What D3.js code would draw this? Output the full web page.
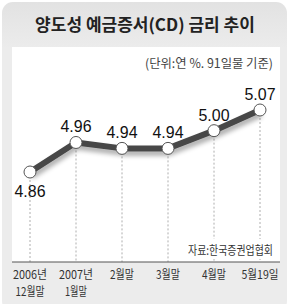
<!DOCTYPE html>
<html><head><meta charset="utf-8">
<script src="https://cdn.jsdelivr.net/npm/d3@7"></script>
<style>body{margin:0;background:#fff}svg{display:block}</style>
</head><body>
<script>
const categories1 = ["2006년","2007년","2월말","3월말","4월말","5월19일"];
const categories2 = ["12월말","1월말","","","",""];
const values = [4.86, 4.96, 4.94, 4.94, 5.00, 5.07];
const valueLabels = ["4.86","4.96","4.94","4.94","5.00","5.07"];

const W = 290, H = 304;
const svg = d3.select("body").append("svg").attr("width", W).attr("height", H);
const defs = svg.append("defs");
const g1 = defs.append("linearGradient").attr("id","bg").attr("x1",0).attr("y1",0).attr("x2",0).attr("y2",1);
g1.append("stop").attr("offset","0").attr("stop-color","#e2e2e2");
g1.append("stop").attr("offset","0.15").attr("stop-color","#ececec");
g1.append("stop").attr("offset","1").attr("stop-color","#ececec");
const f = defs.append("filter").attr("id","sh").attr("x","-20%").attr("y","-50%").attr("width","140%").attr("height","200%");
f.append("feGaussianBlur").attr("in","SourceAlpha").attr("stdDeviation",2.5);
f.append("feOffset").attr("dx",1).attr("dy",4).attr("result","b");
f.append("feComponentTransfer").append("feFuncA").attr("type","linear").attr("slope",0.35);
const m = f.append("feMerge"); m.append("feMergeNode"); m.append("feMergeNode").attr("in","SourceGraphic");

svg.append("rect").attr("x",2).attr("y",2).attr("width",285).attr("height",310).attr("rx",11).attr("fill","url(#bg)");
svg.append("rect").attr("x",12).attr("y",47).attr("width",268).attr("height",215).attr("fill","#fff");

svg.append("text").attr("x",145).attr("y",31).attr("text-anchor","middle")
  .attr("font-family","'Noto Sans CJK KR'").attr("font-weight","bold").attr("font-size",17).attr("fill","#222")
  .text("양도성 예금증서(CD) 금리 추이");
svg.append("text").attr("x",273).attr("y",68).attr("text-anchor","end")
  .attr("font-family","'Noto Sans CJK KR'").attr("font-size",12.5).attr("fill","#444")
  .attr("textLength",128).attr("lengthAdjust","spacingAndGlyphs")
  .text("(단위:연 %. 91일물 기준)");

const x = d3.scalePoint().domain(d3.range(values.length)).range([30, 260]);
const y = d3.scaleLinear().domain([4.86, 5.07]).range([172, 110]);
const axisY = 262;

svg.append("g").selectAll("line").data(values).join("line")
  .attr("x1",(d,i)=>x(i)).attr("x2",(d,i)=>x(i)).attr("y1",d=>y(d)).attr("y2",axisY)
  .attr("stroke","#999").attr("stroke-width",0.8).attr("stroke-dasharray","2,2");

svg.append("rect").attr("x",184).attr("y",239).attr("width",94).attr("height",20).attr("fill","#fff");
svg.append("text").attr("x",273).attr("y",255).attr("text-anchor","end")
  .attr("font-family","'Noto Sans CJK KR'").attr("font-size",12).attr("fill","#333")
  .attr("textLength",85).attr("lengthAdjust","spacingAndGlyphs")
  .text("자료:한국증권업협회");

svg.append("line").attr("x1",12).attr("x2",280).attr("y1",axisY).attr("y2",axisY).attr("stroke","#555").attr("stroke-width",1.2);

const line = d3.line().x((d,i)=>x(i)).y(d=>y(d));
svg.append("path").datum(values).attr("d",line).attr("fill","none").attr("stroke","#474747")
  .attr("stroke-width",6).attr("stroke-linejoin","round").attr("filter","url(#sh)");

svg.append("g").selectAll("circle").data(values).join("circle")
  .attr("cx",(d,i)=>x(i)).attr("cy",d=>y(d)).attr("r",6)
  .attr("fill","#fff").attr("stroke","#555").attr("stroke-width",1);

svg.append("g").selectAll("text").data(values).join("text")
  .attr("x",(d,i)=>x(i)).attr("y",(d,i)=> i===0 ? y(d)+25 : y(d)-10)
  .attr("text-anchor","middle").attr("font-family","Arial, 'Liberation Sans'").attr("font-size",16).attr("fill","#111")
  .attr("textLength",31).attr("lengthAdjust","spacingAndGlyphs")
  .text((d,i)=>valueLabels[i]);

const w1 = {"2006년":34,"2007년":34,"2월말":24,"3월말":24,"4월말":24,"5월19일":37};
const w2 = {"12월말":29,"1월말":22};
const lab = svg.append("g").attr("font-family","'Noto Sans CJK KR'").attr("font-size",12).attr("fill","#333");
lab.selectAll("text.a").data(categories1).join("text").attr("class","a")
  .attr("x",(d,i)=>x(i)).attr("y",279).attr("text-anchor","middle")
  .attr("textLength", d=> w1[d]).attr("lengthAdjust","spacingAndGlyphs").text(d=>d);
lab.selectAll("text.b").data(categories2.filter(d=>d)).join("text").attr("class","b")
  .attr("x",(d,i)=>x(i)).attr("y",296).attr("text-anchor","middle")
  .attr("textLength", d=> w2[d]).attr("lengthAdjust","spacingAndGlyphs").text(d=>d);
</script>
</body></html>
